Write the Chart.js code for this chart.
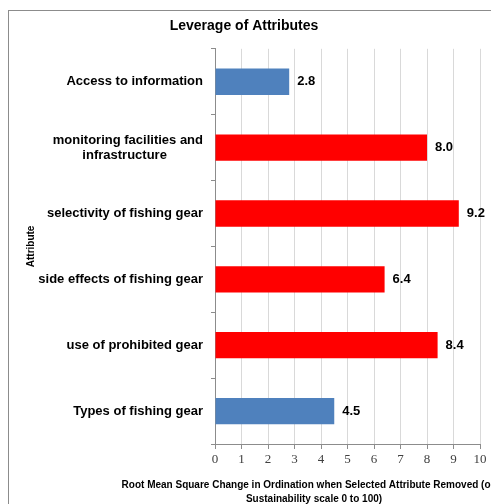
<!DOCTYPE html>
<html>
<head>
<meta charset="utf-8">
<script src="https://cdn.jsdelivr.net/npm/chart.js@4/dist/chart.umd.min.js"></script>
<style>
  html, body { margin: 0; padding: 0; background: #fff; }
  #wrap { width: 491px; height: 504px; position: relative; }
</style>
</head>
<body>
<div id="wrap"><canvas id="chart" width="491" height="504"></canvas></div>
<script>
// Data
const categories = [
    "Access to information",
    ["monitoring facilities and", "infrastructure          "],
    "selectivity of fishing gear",
    "side effects of fishing gear",
    "use of prohibited gear",
    "Types of fishing gear"
];
const values = [2.8, 8.0, 9.2, 6.4, 8.4, 4.5];
const barColors = ["#4F81BD", "#FF0000", "#FF0000", "#FF0000", "#FF0000", "#4F81BD"];
const xTicks = [0, 1, 2, 3, 4, 5, 6, 7, 8, 9, 10];
const xTitle = ["Root Mean Square Change in Ordination when Selected Attribute Removed (or", "Sustainability scale 0 to 100)"];

// gray frame round the whole chart
const framePlugin = {
    id: "frame",
    beforeDraw(chart) {
        const ctx = chart.ctx;
        ctx.save();
        ctx.fillStyle = "#fff";
        ctx.fillRect(0, 0, chart.width, chart.height);
        ctx.strokeStyle = "#8c8c8c";
        ctx.lineWidth = 1;
        ctx.strokeRect(8.5, 10.5, 520, 520);
        ctx.restore();
    }
};

// value labels at the end of each bar + x axis title
const labelPlugin = {
    id: "labels",
    afterDraw(chart) {
        const ctx = chart.ctx;
        ctx.save();
        ctx.fillStyle = "#000";
        ctx.font = "bold 13px 'Liberation Sans', Arial, sans-serif";
        ctx.textAlign = "left";
        ctx.textBaseline = "middle";
        chart.getDatasetMeta(0).data.forEach((bar, i) => {
            ctx.fillText(values[i].toFixed(1), bar.x + 8, bar.y);
        });

        ctx.font = "bold 10px 'Liberation Sans', Arial, sans-serif";
        ctx.textAlign = "center";
        ctx.fillText(xTitle[0], 308, 485);
        ctx.fillText(xTitle[1], 314, 499);
        ctx.restore();
    }
};

new Chart(document.getElementById("chart"), {
    type: "bar",
    data: {
        labels: categories,
        datasets: [{
            data: values,
            backgroundColor: barColors,
            borderWidth: 0,
            categoryPercentage: 1,
            barPercentage: 0.4
        }]
    },
    options: {
        indexAxis: "y",
        responsive: false,
        animation: false,
        layout: { padding: { left: 8, right: 11, top: 0, bottom: 0 } },
        plugins: {
            legend: { display: false },
            tooltip: { enabled: false },
            title: {
                display: true,
                text: "Leverage of Attributes",
                color: "#000",
                font: { family: "'Liberation Sans', Arial, sans-serif", size: 14, weight: "bold" },
                padding: { top: 18, bottom: 14 }
            }
        },
        scales: {
            x: {
                min: 0,
                max: 10,
                afterBuildTicks(scale) {
                    scale.ticks = xTicks.map(v => ({ value: v }));
                },
                afterFit(scale) { scale.height = 60; },
                ticks: {
                    color: "#404040",
                    padding: 3,
                    font: { family: "'Liberation Serif', 'DejaVu Serif', serif", size: 13 }
                },
                grid: { color: "#d9d9d9", tickColor: "#8c8c8c", tickLength: 5 },
                border: { color: "#8c8c8c" }
            },
            y: {
                afterFit(scale) { scale.width = 207; },
                ticks: {
                    color: "#000",
                    padding: 8,
                    font: { family: "'Liberation Sans', Arial, sans-serif", size: 13, weight: "bold", lineHeight: 1.15 }
                },
                grid: { drawOnChartArea: false, offset: true, color: "#8c8c8c", tickLength: 4 },
                border: { color: "#8c8c8c" },
                title: {
                    display: true,
                    text: "Attribute",
                    color: "#000",
                    font: { family: "'Liberation Sans', Arial, sans-serif", size: 10, weight: "bold" },
                    padding: { top: 17, bottom: 0 }
                }
            }
        }
    },
    plugins: [framePlugin, labelPlugin]
});
</script>
</body>
</html>
